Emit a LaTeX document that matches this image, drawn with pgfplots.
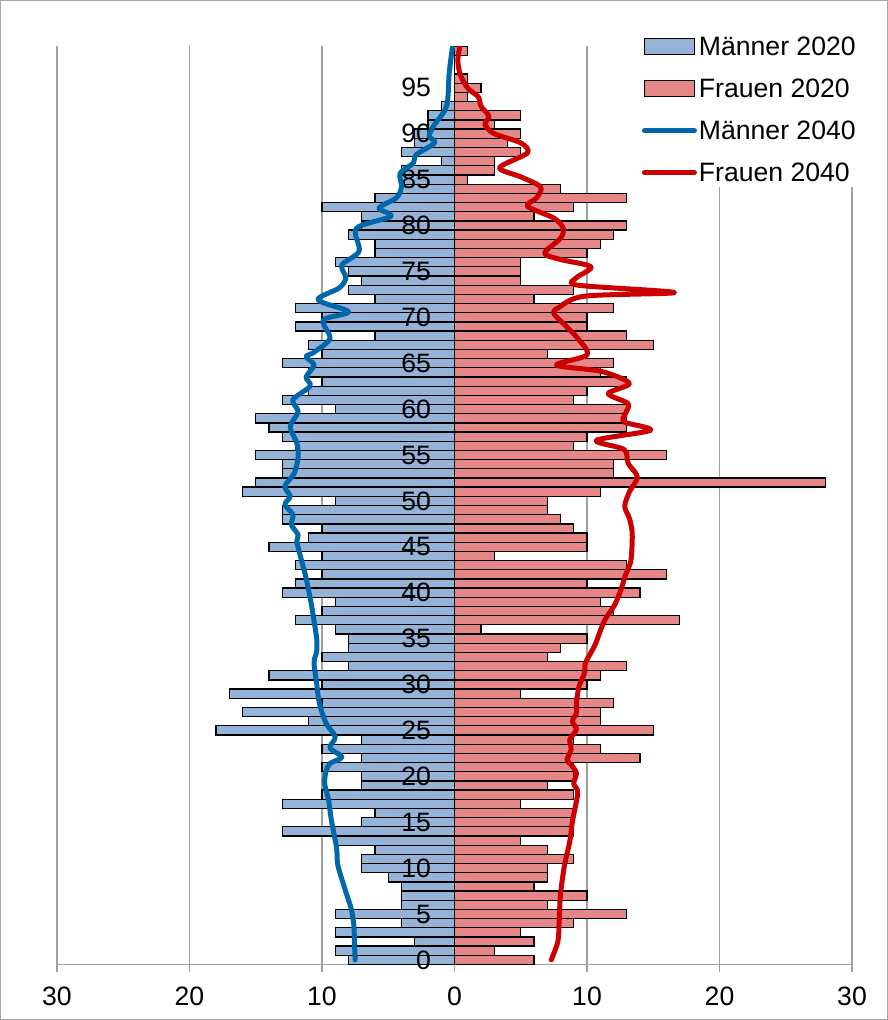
\documentclass[border=0pt]{standalone}
\usepackage{pgfplots}
\pgfplotsset{compat=1.18}
\usepackage{pgfplotstable}
\usepackage{fontspec}
\setmainfont{Liberation Sans}

\definecolor{mbar}{RGB}{149,179,215}
\definecolor{fbar}{RGB}{230,135,135}
\definecolor{mline}{RGB}{0,104,170}
\definecolor{fline}{RGB}{204,0,0}
\definecolor{gridgray}{RGB}{160,160,160}

% bars below the tick labels, lines above them
\pgfdeclarelayer{bars}
\pgfplotsset{
    layers/pyramid/.define layer set={
        axis background,axis grid,axis ticks,axis lines,bars,
        axis tick labels,main,axis descriptions,axis foreground
    }{/pgfplots/layers/standard},
    barleg/.style={legend image code/.code={\draw[##1] (0pt,-8pt) rectangle (50pt,8pt);}},
    lineleg/.style={legend image code/.code={\draw[##1] (0pt,0pt) -- (50pt,0pt);}},
}

% Bevoelkerung 2020 nach Alter (Maenner / Frauen)
\pgfplotstableread{
age m20 f20
0 8 6
1 9 3
2 3 6
3 9 5
4 4 9
5 9 13
6 4 7
7 4 10
8 4 6
9 5 7
10 7 7
11 7 9
12 6 7
13 9 5
14 13 9
15 7 9
16 6 9
17 13 5
18 10 9
19 7 7
20 7 9
21 10 9
22 7 14
23 10 11
24 7 9
25 18 15
26 11 11
27 16 11
28 10 12
29 17 5
30 10 10
31 14 11
32 8 13
33 10 7
34 8 8
35 8 10
36 9 2
37 12 17
38 10 12
39 9 11
40 13 14
41 12 10
42 10 16
43 12 13
44 10 3
45 14 10
46 11 10
47 10 9
48 13 8
49 13 7
50 9 7
51 16 11
52 15 28
53 13 12
54 13 12
55 15 16
56 12 9
57 13 10
58 14 13
59 15 13
60 9 13
61 13 9
62 11 10
63 10 13
64 11 11
65 13 12
66 10 7
67 11 15
68 6 13
69 12 10
70 10 10
71 12 12
72 6 6
73 8 9
74 7 5
75 8 5
76 9 5
77 6 10
78 6 11
79 8 12
80 7 13
81 7 6
82 10 9
83 6 13
84 4 8
85 4 1
86 4 3
87 1 3
88 4 5
89 3 4
90 3 5
91 2 3
92 2 5
93 1 2
94 0 1
95 0 2
96 0 1
97 0 0
98 0 0
99 0 1
}\bars

% Prognose 2040 Maenner
\pgfplotstableread{
age v
0 7.5
1.9 7.55
3.8 7.6
5.6 7.8
7.4 8.2
10.3 8.8
12.2 8.9
15.3 9.3
17.4 9.5
19.2 9.8
20.5 9.7
21.4 9.4
22.1 8.5
23.1 9.4
24.3 9.0
25.8 9.7
28.0 10.2
30.1 10.4
32.4 10.6
33.6 10.4
35.0 10.4
36.9 10.6
38.7 10.8
41.6 11.2
43.8 11.6
45.6 11.9
46.3 11.8
47.4 12.3
48.5 12.2
49.6 12.8
50.5 12.4
51.6 12.8
53.0 12.1
54.8 11.8
56.3 11.9
58.1 12.4
59.7 11.8
61.0 12.2
62.5 10.9
63.5 11.2
64.8 10.6
65.7 11.2
66.2 10.6
67.7 9.4
69.7 9.9
70.6 8.0
71.9 10.3
73.2 8.7
74.3 8.2
75.7 8.5
77.2 7.2
79.7 7.4
81.0 4.8
81.9 5.7
83.0 4.4
84.2 4.0
85.7 4.1
86.8 3.1
87.7 2.9
89.0 1.5
89.7 1.9
90.8 1.6
93.0 0.6
96.6 0.4
99.5 0.15
}\mforty

% Prognose 2040 Frauen
\pgfplotstableread{
age v
0 7.3
2.0 7.8
4.2 7.9
7.1 8.0
10.3 8.3
12.9 8.7
15.1 8.9
18.2 9.3
19.2 9.0
20.3 9.2
21.1 8.9
21.8 8.5
22.9 8.8
24.0 8.7
25.1 9.2
26.0 8.9
26.9 9.2
28.0 9.2
29.8 9.4
31.2 9.8
32.4 9.9
34.3 10.6
36.9 11.3
38.7 12.1
40.5 12.6
41.9 12.9
43.4 13.3
45.2 13.4
46.7 13.4
48.1 13.2
49.4 12.85
51.0 13.2
52.6 13.8
54.1 13.1
55.6 12.8
56.6 10.7
57.7 14.8
58.6 12.8
59.5 12.9
60.6 13.1
61.7 11.6
62.8 13.2
64.1 11.1
64.8 7.7
65.9 10.0
67.7 9.3
69.2 8.3
70.4 7.5
71.0 7.8
72.3 9.8
72.7 16.6
73.5 9.3
74.3 9.2
75.5 10.3
76.3 8.0
77.0 6.8
78.6 8.0
79.7 8.2
80.8 7.5
82.1 5.5
83.0 6.2
84.2 6.5
85.3 5.0
86.3 3.4
87.9 5.5
89.0 5.0
90.0 3.0
91.0 2.3
91.9 2.6
93.0 2.0
94.0 1.8
94.8 1.1
95.5 0.75
96.6 0.4
98.0 0.25
99.5 0.4
}\fforty

\begin{document}
\begin{tikzpicture}
\begin{axis}[
    set layers=pyramid,
    scale only axis, width=795pt, height=918pt,
    xmin=-30, xmax=30, ymin=-0.5, ymax=99.5,
    axis x line=bottom, axis y line=middle,
    x axis line style={gridgray, line width=1.5pt, -},
    y axis line style={draw=none},
    xtick={-30,-20,...,30},
    ytick={0,5,...,95},
    tick align=outside, major tick length=8pt,
    xtick style={gridgray, line width=1.5pt},
    ytick style={draw=none},
    xmajorgrids, grid style={gridgray, line width=1.5pt},
    /pgf/number format/assume math mode=true,
    tick label style={font=\fontsize{26.6}{30}\selectfont, text=black},
    xticklabel={\pgfmathparse{abs(\tick)}\pgfmathprintnumber{\pgfmathresult}},
    xticklabel style={yshift=-11pt},
    yticklabel style={anchor=east, xshift=-12pt},
    legend cell align=left,
    legend style={at={(0.733,1.0154)}, anchor=north west, draw=none, fill=white,
        font=\fontsize{26.6}{30}\selectfont, row sep=18pt, inner sep=2pt,
        /tikz/every even column/.append style={column sep=4pt}},
]
\addplot[xbar, bar width=1, bar shift=0pt, fill=mbar, draw=black, line width=1.3pt,
    on layer=bars, barleg]
    table[x expr=-\thisrow{m20}, y=age]{\bars};
\addlegendentry{Männer 2020}
\addplot[xbar, bar width=1, bar shift=0pt, fill=fbar, draw=black, line width=1.3pt,
    on layer=bars, barleg]
    table[x=f20, y=age]{\bars};
\addlegendentry{Frauen 2020}
\addplot[mline, line width=5pt, smooth, line cap=round, line join=round, lineleg]
    table[x expr=-\thisrow{v}, y=age]{\mforty};
\addlegendentry{Männer 2040}
\addplot[fline, line width=5pt, smooth, line cap=round, line join=round, lineleg]
    table[x=v, y=age]{\fforty};
\addlegendentry{Frauen 2040}
\end{axis}
\draw[gray!70, line width=1pt] ([shift={(-56.5pt,-55pt)}]current axis.south west)
    rectangle ([shift={(35.5pt,46pt)}]current axis.north east);
\end{tikzpicture}
\end{document}
